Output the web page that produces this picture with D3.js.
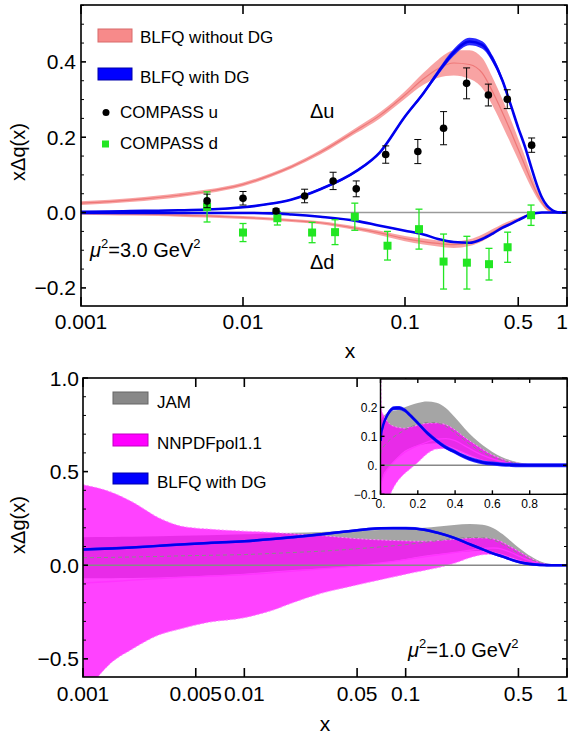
<!DOCTYPE html>
<html><head><meta charset="utf-8">
<script src="https://cdn.jsdelivr.net/npm/d3@7"></script>
<style>body{margin:0;background:#fff} svg{display:block} text{font-family:"Liberation Sans",Arial,sans-serif;fill:#000}</style>
</head><body><svg id="c" width="569" height="738"></svg>
<script>
// ---------- DATA ----------
const xGrid = [0.001,0.0015,0.002,0.003,0.004,0.006,0.01,0.015,0.02,0.03,0.05,0.07,0.1,0.13,0.16,0.2,0.25,0.3,0.35,0.4,0.45,0.5,0.55,0.6,0.65,0.7,0.75,0.8,0.85,0.9,0.95,1.0];
// top panel: x*Delta q(x), mu^2 = 3 GeV^2
const duNoDG    = [0.025,0.029,0.033,0.040,0.046,0.056,0.075,0.100,0.122,0.160,0.218,0.258,0.312,0.355,0.382,0.397,0.393,0.370,0.318,0.265,0.215,0.168,0.125,0.085,0.052,0.027,0.010,0.003,0.001,0,0,0];
const duNoDGErr = [0.005,0.005,0.005,0.005,0.005,0.005,0.005,0.005,0.005,0.006,0.007,0.008,0.010,0.016,0.024,0.033,0.038,0.040,0.037,0.035,0.032,0.028,0.024,0.018,0.012,0.007,0.004,0.002,0.001,0,0,0];
const duDG      = [0.002,0.003,0.004,0.005,0.006,0.008,0.014,0.024,0.035,0.062,0.110,0.160,0.255,0.317,0.372,0.425,0.454,0.445,0.405,0.350,0.285,0.225,0.175,0.122,0.075,0.040,0.019,0.008,0.002,0,0,0];
const duDGErr   = [0.002,0.002,0.002,0.002,0.002,0.002,0.002,0.002,0.002,0.003,0.003,0.003,0.004,0.005,0.007,0.009,0.010,0.010,0.009,0.007,0.005,0.004,0.003,0.003,0.002,0.002,0.001,0.001,0,0,0,0];
const ddNoDG    = [-0.002,-0.003,-0.004,-0.005,-0.007,-0.009,-0.013,-0.017,-0.021,-0.027,-0.042,-0.054,-0.069,-0.077,-0.082,-0.085,-0.080,-0.067,-0.051,-0.037,-0.027,-0.018,-0.010,-0.004,-0.001,0,0,0,0,0,0,0];
const ddNoDGErr = [0.004,0.004,0.004,0.004,0.004,0.004,0.004,0.004,0.004,0.004,0.005,0.006,0.007,0.008,0.008,0.009,0.009,0.009,0.008,0.007,0.006,0.004,0.003,0.002,0.001,0,0,0,0,0,0,0];
const ddDG      = [-0.001,-0.001,-0.001,-0.001,-0.001,-0.001,-0.001,-0.002,-0.005,-0.011,-0.022,-0.035,-0.048,-0.058,-0.070,-0.078,-0.080,-0.070,-0.055,-0.040,-0.030,-0.020,-0.011,-0.004,-0.001,0,0,0,0,0,0,0];

const compassXu  = [0.006,0.01,0.016,0.024,0.036,0.05,0.076,0.12,0.173,0.24,0.327,0.428,0.605];
const compassU   = [0.031,0.038,0.004,0.044,0.084,0.063,0.154,0.162,0.224,0.343,0.312,0.301,0.179];
const compassUEr = [0.018,0.018,0.006,0.018,0.023,0.021,0.023,0.032,0.044,0.041,0.029,0.025,0.019];
const compassXd  = [0.006,0.01,0.0163,0.0267,0.037,0.049,0.078,0.122,0.173,0.241,0.33,0.43,0.6];
const compassD   = [0.015,-0.053,-0.015,-0.053,-0.052,-0.011,-0.088,-0.044,-0.130,-0.133,-0.137,-0.092,-0.007];
const compassDEr = [0.040,0.024,0.018,0.027,0.033,0.036,0.038,0.053,0.073,0.070,0.042,0.040,0.027];

// bottom panel: x*Delta g(x), mu^2 = 1 GeV^2
const gBLFQ  = [0.084,0.090,0.095,0.104,0.111,0.119,0.128,0.140,0.150,0.165,0.187,0.197,0.198,0.190,0.172,0.146,0.112,0.085,0.062,0.046,0.030,0.018,0.010,0.006,0.003,0.0015,0.0005,0,0,0,0,0];
const jamHi  = [0.150,0.151,0.152,0.155,0.157,0.160,0.165,0.170,0.173,0.178,0.184,0.188,0.192,0.200,0.207,0.215,0.220,0.216,0.198,0.165,0.128,0.095,0.068,0.046,0.029,0.017,0.009,0.004,0.001,0,0,0];
const jamMid = [0.040,0.042,0.044,0.047,0.050,0.053,0.057,0.063,0.068,0.075,0.088,0.098,0.110,0.122,0.132,0.142,0.148,0.147,0.135,0.112,0.087,0.063,0.044,0.029,0.018,0.010,0.005,0.002,0.001,0,0,0];
const jamLo  = [-0.070,-0.069,-0.068,-0.065,-0.062,-0.055,-0.045,-0.033,-0.025,-0.017,-0.005,0.012,0.033,0.050,0.060,0.068,0.074,0.076,0.070,0.058,0.044,0.030,0.019,0.011,0.006,0.003,0.001,0,0,0,0,0];
const nnHi   = [0.430,0.390,0.340,0.250,0.210,0.193,0.182,0.175,0.168,0.158,0.142,0.135,0.130,0.128,0.132,0.138,0.145,0.146,0.140,0.122,0.097,0.075,0.054,0.036,0.022,0.012,0.006,0.002,0,0,0,0];
const nnMid  = [-0.095,-0.087,-0.080,-0.071,-0.065,-0.058,-0.050,-0.040,-0.032,-0.020,-0.003,0.012,0.030,0.045,0.056,0.068,0.080,0.090,0.092,0.085,0.068,0.050,0.034,0.022,0.013,0.006,0.002,0,0,0,0,0];
const nnLo   = [-0.700,-0.520,-0.450,-0.370,-0.340,-0.305,-0.280,-0.240,-0.200,-0.150,-0.105,-0.077,-0.048,-0.028,-0.012,0.010,0.040,0.056,0.058,0.050,0.037,0.024,0.014,0.007,0.003,0.001,0,0,0,0,0,0];

const topXTicks = [0.001,0.01,0.1,0.5,1];
const topXLabels = ["0.001","0.01","0.1","0.5","1"];
const topYTicks = [-0.2,0,0.2,0.4];
const topYLabels = ["\u22120.2","0.0","0.2","0.4"];
const botXTicks = [0.001,0.005,0.01,0.05,0.1,0.5,1];
const botXLabels = ["0.001","0.005","0.01","0.05","0.1","0.5","1"];
const botYTicks = [-0.5,0,0.5,1.0];
const botYLabels = ["\u22120.5","0.0","0.5","1.0"];
const insXTicks = [0,0.2,0.4,0.6,0.8];
const insXLabels = ["0.","0.2","0.4","0.6","0.8"];
const insYTicks = [-0.1,0,0.1,0.2];
const insYLabels = ["\u22120.1","0.","0.1","0.2"];

// ---------- DRAW ----------
const W = 569;
const svg = d3.select("#c");
const defs = svg.append("defs");
let clipId = 0;
function makeClip(x0,y0,x1,y1){
  const id = "clip"+(clipId++);
  defs.append("clipPath").attr("id",id).append("rect").attr("x",x0).attr("y",y0).attr("width",x1-x0).attr("height",y1-y0);
  return "url(#"+id+")";
}
function band(g, xs, ys, lo, hi, fill, op){
  const a = d3.area().x((d,i)=>xs(xGrid[i])).y0((d,i)=>ys(lo[i])).y1((d,i)=>ys(hi[i])).curve(d3.curveMonotoneX);
  g.append("path").attr("d",a(xGrid)).attr("fill",fill).attr("fill-opacity",op);
}
function line(g, xs, ys, vals, stroke, w, dash){
  const l = d3.line().x((d,i)=>xs(xGrid[i])).y((d,i)=>ys(vals[i])).curve(d3.curveMonotoneX);
  const p = g.append("path").attr("d",l(xGrid)).attr("fill","none").attr("stroke",stroke).attr("stroke-width",w);
  if(dash) p.attr("stroke-dasharray",dash);
}
function frame(g, L,R,T,B, xs, ys, xt, yt, yMinor, xLen, yLen, minLen, w){
  g.append("rect").attr("x",L).attr("y",T).attr("width",R-L).attr("height",B-T).attr("fill","none").attr("stroke","#000").attr("stroke-width",w);
  xt.forEach(v=>{
    const x = xs(v);
    g.append("line").attr("x1",x).attr("x2",x).attr("y1",B).attr("y2",B-xLen).attr("stroke","#000").attr("stroke-width",w);
    g.append("line").attr("x1",x).attr("x2",x).attr("y1",T).attr("y2",T+xLen).attr("stroke","#000").attr("stroke-width",w);
  });
  yt.forEach(v=>{
    const y = ys(v);
    g.append("line").attr("x1",L).attr("x2",L+yLen).attr("y1",y).attr("y2",y).attr("stroke","#000").attr("stroke-width",w);
    g.append("line").attr("x1",R).attr("x2",R-yLen).attr("y1",y).attr("y2",y).attr("stroke","#000").attr("stroke-width",w);
  });
  yMinor.forEach(v=>{
    const y = ys(v);
    g.append("line").attr("x1",L).attr("x2",L+minLen).attr("y1",y).attr("y2",y).attr("stroke","#000").attr("stroke-width",1);
    g.append("line").attr("x1",R).attr("x2",R-minLen).attr("y1",y).attr("y2",y).attr("stroke","#000").attr("stroke-width",1);
  });
}
function minors(dom, step, majors){
  const out=[]; for(let v=Math.ceil(dom[0]/step)*step; v<=dom[1]+1e-9; v+=step){ const r=Math.round(v*1000)/1000; if(!majors.some(m=>Math.abs(m-r)<1e-6)) out.push(r);} return out;
}
function xLabels(g, xs, ticks, labels, y, fs){
  ticks.forEach((v,i)=>{
    const t = g.append("text").attr("x",xs(v)).attr("y",y).attr("text-anchor","middle").attr("font-size",fs).text(labels[i]);
    const bb = t.node().getBBox();
    if(bb.x+bb.width > W-1) t.attr("x", xs(v)-(bb.x+bb.width-(W-1)));
  });
}

// ===== TOP PANEL =====
const T = {L:81,R:567,T:5,B:306};
const x1 = d3.scaleLog().domain([0.001,1]).range([T.L,T.R]);
const y1 = d3.scaleLinear().domain([-0.248,0.551]).range([T.B,T.T]);
const g1 = svg.append("g");
const p1 = g1.append("g").attr("clip-path", makeClip(T.L,T.T,T.R,T.B));
const pinkFill = "#f79393", pinkLine = "#ee7777";
band(p1,x1,y1, duNoDG.map((v,i)=>v-duNoDGErr[i]), duNoDG.map((v,i)=>v+duNoDGErr[i]), pinkFill, 0.85);
band(p1,x1,y1, ddNoDG.map((v,i)=>v-ddNoDGErr[i]), ddNoDG.map((v,i)=>v+ddNoDGErr[i]), pinkFill, 0.85);
line(p1,x1,y1,duNoDG,pinkLine,1.2);
line(p1,x1,y1,ddNoDG,pinkLine,1.2);
p1.append("line").attr("x1",T.L).attr("x2",T.R).attr("y1",y1(0)).attr("y2",y1(0)).attr("stroke","#9a9a9a").attr("stroke-width",1.5);
band(p1,x1,y1, duDG.map((v,i)=>v-duDGErr[i]), duDG.map((v,i)=>v+duDGErr[i]), "#2a2aff", 1);
line(p1,x1,y1,duDG,"#0000ee",2.6);
line(p1,x1,y1,ddDG,"#0000ee",2.6);
// COMPASS points
const green = "#22e622";
compassXd.forEach((xv,i)=>{
  const cx=x1(xv), ya=y1(compassD[i]-compassDEr[i]), yb=y1(compassD[i]+compassDEr[i]);
  p1.append("line").attr("x1",cx).attr("x2",cx).attr("y1",ya).attr("y2",yb).attr("stroke",green).attr("stroke-width",1.3);
  [ya,yb].forEach(yy=>p1.append("line").attr("x1",cx-3.5).attr("x2",cx+3.5).attr("y1",yy).attr("y2",yy).attr("stroke",green).attr("stroke-width",1.3));
  p1.append("rect").attr("x",cx-4).attr("y",y1(compassD[i])-4).attr("width",8).attr("height",8).attr("fill",green);
});
compassXu.forEach((xv,i)=>{
  const cx=x1(xv), ya=y1(compassU[i]-compassUEr[i]), yb=y1(compassU[i]+compassUEr[i]);
  p1.append("line").attr("x1",cx).attr("x2",cx).attr("y1",ya).attr("y2",yb).attr("stroke","#000").attr("stroke-width",1);
  [ya,yb].forEach(yy=>p1.append("line").attr("x1",cx-3.5).attr("x2",cx+3.5).attr("y1",yy).attr("y2",yy).attr("stroke","#000").attr("stroke-width",1));
  p1.append("circle").attr("cx",cx).attr("cy",y1(compassU[i])).attr("r",3.8).attr("fill","#000");
});
frame(g1,T.L,T.R,T.T,T.B,x1,y1,topXTicks,topYTicks,minors([-0.248,0.551],0.05,topYTicks),9,5,3,1.6);
xLabels(g1,x1,topXTicks,topXLabels,T.B+23,21);
topYTicks.forEach((v,i)=>g1.append("text").attr("x",T.L-5).attr("y",y1(v)).attr("dy","0.36em").attr("text-anchor","end").attr("font-size",21).text(topYLabels[i]));
g1.append("text").attr("x",350).attr("y",358).attr("text-anchor","middle").attr("font-size",21).text("x");
g1.append("text").attr("transform","translate(25,152) rotate(-90)").attr("text-anchor","middle").attr("font-size",20).text("x\u0394q(x)");
// legend
g1.append("rect").attr("x",98).attr("y",29).attr("width",34).attr("height",13).attr("fill","#f78a8a").attr("stroke","#d86a6a").attr("stroke-width",1);
g1.append("text").attr("x",140).attr("y",43).attr("font-size",17).text("BLFQ without DG");
g1.append("rect").attr("x",98).attr("y",68).attr("width",34).attr("height",12).attr("fill","#0000ff").attr("stroke","#0000aa").attr("stroke-width",1);
g1.append("text").attr("x",140).attr("y",82.5).attr("font-size",17).text("BLFQ with DG");
g1.append("circle").attr("cx",106).attr("cy",112.5).attr("r",3.5).attr("fill","#000");
g1.append("text").attr("x",120).attr("y",117.5).attr("font-size",17).text("COMPASS u");
g1.append("rect").attr("x",102).attr("y",140.5).attr("width",7).attr("height",7).attr("fill",green);
g1.append("text").attr("x",120).attr("y",148.5).attr("font-size",17).text("COMPASS d");
g1.append("text").attr("x",310).attr("y",118).attr("font-size",20).text("\u0394u");
g1.append("text").attr("x",310).attr("y",269).attr("font-size",20).text("\u0394d");
function muLabel(g,x,y,val){
  const t = g.append("text").attr("x",x).attr("y",y).attr("font-size",20);
  t.append("tspan").attr("font-style","italic").text("\u03bc");
  t.append("tspan").attr("font-size",13).attr("dy",-9).text("2");
  t.append("tspan").attr("dy",9).text("="+val+" GeV");
  t.append("tspan").attr("font-size",13).attr("dy",-9).text("2");
}
muLabel(g1,90,257,"3.0");

// ===== BOTTOM PANEL =====
const B = {L:83,R:567,T:378,B:677};
const x2 = d3.scaleLog().domain([0.001,1]).range([B.L,B.R]);
const y2 = d3.scaleLinear().domain([-0.597,1.0]).range([B.B,B.T]);
const g2 = svg.append("g");
function gluonLayers(p, xs, ys, L, R){
  band(p,xs,ys,jamLo,jamHi,"#7a7a7a",0.68);
  band(p,xs,ys,nnLo,nnHi,"#ff00ff",0.74);
  line(p,xs,ys,nnHi,"#ff88ff",1,"2,2");
  line(p,xs,ys,nnLo,"#ff88ff",1,"2,2");
  line(p,xs,ys,jamMid,"#8a8a8a",1,"4,3");
  line(p,xs,ys,nnMid,"#ff33ff",1.3);
  p.append("line").attr("x1",L).attr("x2",R).attr("y1",ys(0)).attr("y2",ys(0)).attr("stroke","#888").attr("stroke-width",1.5);
  band(p,xs,ys,gBLFQ.map(v=>v-0.007),gBLFQ.map(v=>v+0.007),"#2a2aff",1);
  line(p,xs,ys,gBLFQ,"#0000ee",2.5);
}
const p2 = g2.append("g").attr("clip-path", makeClip(B.L,B.T,B.R,B.B));
gluonLayers(p2,x2,y2,B.L,B.R);
frame(g2,B.L,B.R,B.T,B.B,x2,y2,botXTicks,botYTicks,minors([-0.597,1.0],0.1,botYTicks),9,5,3,1.6);
xLabels(g2,x2,botXTicks,botXLabels,B.B+24,21);
botYTicks.forEach((v,i)=>g2.append("text").attr("x",B.L-4).attr("y",y2(v)).attr("dy","0.36em").attr("text-anchor","end").attr("font-size",21).text(botYLabels[i]));
g2.append("text").attr("x",325).attr("y",731).attr("text-anchor","middle").attr("font-size",21).text("x");
g2.append("text").attr("transform","translate(25,525) rotate(-90)").attr("text-anchor","middle").attr("font-size",20).text("x\u0394g(x)");
muLabel(g2,408,657,"1.0");
// legend
g2.append("rect").attr("x",113).attr("y",392).attr("width",35).attr("height",12).attr("fill","#888").attr("stroke","#666").attr("stroke-width",1);
g2.append("text").attr("x",157).attr("y",408).attr("font-size",17).text("JAM");
g2.append("rect").attr("x",113).attr("y",434).attr("width",35).attr("height",12).attr("fill","#ff00ff").attr("stroke","#c000c0").attr("stroke-width",1);
g2.append("text").attr("x",157).attr("y",449).attr("font-size",17).text("NNPDFpol1.1");
g2.append("rect").attr("x",113).attr("y",473).attr("width",35).attr("height",11).attr("fill","#0000ff").attr("stroke","#0000aa").attr("stroke-width",1);
g2.append("text").attr("x",157).attr("y",488).attr("font-size",17).text("BLFQ with DG");

// ===== INSET =====
const I = {L:380.5,R:567,T:379,B:494.3};
const x3 = d3.scaleLinear().domain([0,1]).range([I.L,I.R]);
const y3 = d3.scaleLinear().domain([-0.1,0.2978]).range([I.B,I.T]);
const g3 = svg.append("g");
g3.append("rect").attr("x",I.L).attr("y",I.T).attr("width",I.R-I.L).attr("height",I.B-I.T).attr("fill","#fff");
const p3 = g3.append("g").attr("clip-path", makeClip(I.L,I.T,I.R,I.B));
gluonLayers(p3,x3,y3,I.L,I.R);
frame(g3,I.L,I.R,I.T,I.B,x3,y3,insXTicks,insYTicks,[],4,4,2,1.4);
insXTicks.forEach((v,i)=>g3.append("text").attr("x",x3(v)).attr("y",I.B+14).attr("text-anchor","middle").attr("font-size",12).text(insXLabels[i]));
insYTicks.forEach((v,i)=>g3.append("text").attr("x",I.L-3).attr("y",y3(v)).attr("dy","0.36em").attr("text-anchor","end").attr("font-size",12).text(insYLabels[i]));
</script></body></html>
